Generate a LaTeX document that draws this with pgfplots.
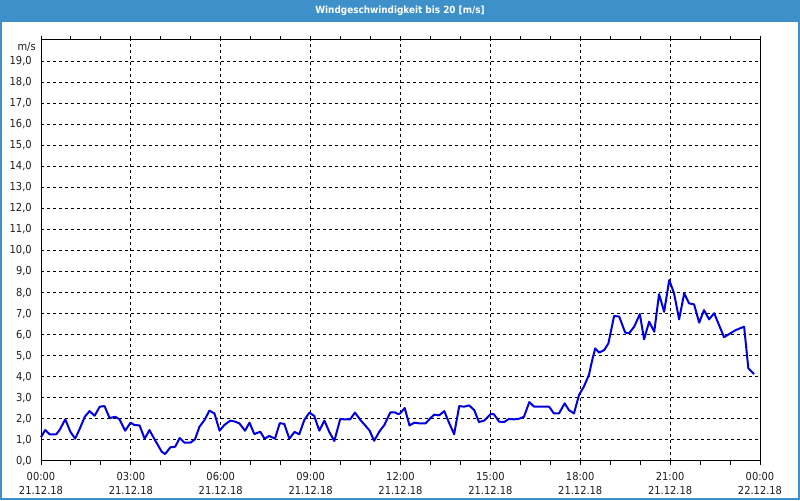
\documentclass[border=0pt]{standalone}
\usepackage{fontspec}
\setmainfont{DejaVu Sans Condensed}
\usepackage{pgfplots}
\pgfplotsset{compat=1.18}
\definecolor{titleblue}{RGB}{61,145,200}
\definecolor{lineblue}{RGB}{0,0,225}
\definecolor{lbl}{RGB}{30,30,30}
\begin{document}
\begin{tikzpicture}
\useasboundingbox (0,0) rectangle (600pt,375pt);
\fill[white] (0,0) rectangle (600pt,375pt);
\fill[titleblue] (0,358.5pt) rectangle (600pt,375pt);
\fill[titleblue] (0,0) rectangle (1.5pt,375pt);
\fill[titleblue] (598.5pt,0) rectangle (600pt,375pt);
\fill[titleblue] (0,0) rectangle (600pt,1.5pt);
\node[text=white, font=\fontsize{7.4}{9}\selectfont\bfseries, inner sep=0pt] at (300pt,366.75pt) {Windgeschwindigkeit bis 20 [m/s]};
\begin{axis}[
  at={(30.75pt,29.25pt)}, anchor=south west,
  scale only axis, width=539.25pt, height=315.75pt,
  xmin=0, xmax=24, ymin=0, ymax=20,
  axis line style={black, line width=0.75pt},
  xtick={0,3,...,24},
  xticklabels={{00:00\\21.12.18},{03:00\\21.12.18},{06:00\\21.12.18},{09:00\\21.12.18},{12:00\\21.12.18},{15:00\\21.12.18},{18:00\\21.12.18},{21:00\\21.12.18},{00:00\\22.12.18}},
  minor x tick num=2,
  ytick={0,1,...,19},
  tick align=outside,
  major tick length=3pt, minor tick length=3pt,
  xtick style={black, line width=0.75pt},
  ytick style={draw=none},
  xmajorgrids, ymajorgrids,
  major grid style={black, line width=0.75pt, dash pattern=on 2.25pt off 2.25pt},
  /pgf/number format/assume math mode=true,
  yticklabel style={/pgf/number format/fixed, /pgf/number format/fixed zerofill, /pgf/number format/precision=1, /pgf/number format/use comma, font=\fontsize{8.25}{10}\selectfont, text=lbl, inner sep=0pt, xshift=-3.75pt},
  xticklabel style={align=center, font=\fontsize{8.25}{10.8}\selectfont, text=lbl, inner sep=0pt, yshift=-5pt},
  clip=false,
]
\addplot[lineblue, line width=1.5pt, line join=round] coordinates {
(0.00,1.13)(0.14,1.47)(0.29,1.27)(0.51,1.27)(0.62,1.47)(0.81,1.98)(0.98,1.39)(1.14,1.06)(1.29,1.52)(1.46,2.10)
(1.62,2.37)(1.79,2.15)(1.96,2.58)(2.12,2.61)(2.29,2.04)(2.48,2.10)(2.62,1.98)(2.81,1.44)(2.99,1.82)(3.12,1.71)
(3.29,1.69)(3.46,1.06)(3.62,1.47)(3.79,1.03)(3.90,0.76)(4.03,0.44)(4.14,0.33)(4.32,0.65)(4.48,0.68)(4.63,1.09)
(4.79,0.87)(4.99,0.87)(5.14,1.03)(5.29,1.63)(5.46,1.95)(5.62,2.39)(5.79,2.26)(5.96,1.44)(6.12,1.71)(6.32,1.92)
(6.48,1.87)(6.62,1.79)(6.81,1.44)(6.96,1.82)(7.12,1.28)(7.32,1.39)(7.46,1.06)(7.62,1.19)(7.81,1.06)(7.97,1.80)
(8.12,1.76)(8.29,1.06)(8.46,1.38)(8.62,1.27)(8.79,1.95)(8.96,2.30)(9.12,2.14)(9.29,1.44)(9.46,1.92)(9.62,1.39)
(9.79,0.95)(9.99,2.00)(10.12,1.98)(10.32,1.98)(10.48,2.30)(10.66,1.95)(10.81,1.71)(10.97,1.44)(11.12,0.96)(11.29,1.39)
(11.46,1.71)(11.66,2.31)(11.81,2.31)(11.92,2.23)(11.99,2.26)(12.14,2.52)(12.30,1.69)(12.46,1.82)(12.62,1.79)(12.84,1.79)
(12.96,1.98)(13.12,2.20)(13.29,2.17)(13.46,2.37)(13.62,1.82)(13.79,1.27)(13.96,2.61)(14.12,2.58)(14.29,2.64)(14.46,2.42)
(14.62,1.85)(14.79,1.92)(15.01,2.23)(15.12,2.22)(15.29,1.87)(15.46,1.85)(15.62,2.00)(15.79,1.98)(15.96,2.01)(16.12,2.10)
(16.30,2.80)(16.46,2.58)(16.96,2.58)(17.12,2.26)(17.29,2.26)(17.48,2.74)(17.62,2.42)(17.79,2.26)(17.96,3.14)(18.12,3.53)
(18.29,4.09)(18.40,4.80)(18.50,5.35)(18.63,5.15)(18.80,5.27)(18.94,5.59)(19.13,6.89)(19.30,6.86)(19.50,6.10)(19.63,6.07)
(19.80,6.38)(19.99,6.98)(20.13,5.78)(20.30,6.62)(20.47,6.14)(20.63,7.93)(20.80,7.09)(20.97,8.60)(21.13,7.97)(21.30,6.73)
(21.47,7.97)(21.63,7.49)(21.80,7.44)(21.97,6.57)(22.13,7.17)(22.30,6.73)(22.47,7.02)(22.80,5.88)(22.97,6.03)(23.19,6.22)
(23.47,6.38)(23.61,4.40)(23.80,4.13)
};
\node[anchor=east, font=\fontsize{8.25}{10}\selectfont, text=lbl, inner sep=0pt] at (rel axis cs:0,1) [xshift=-3.75pt, yshift=-5.25pt] {m/s};
\end{axis}
\end{tikzpicture}
\end{document}
